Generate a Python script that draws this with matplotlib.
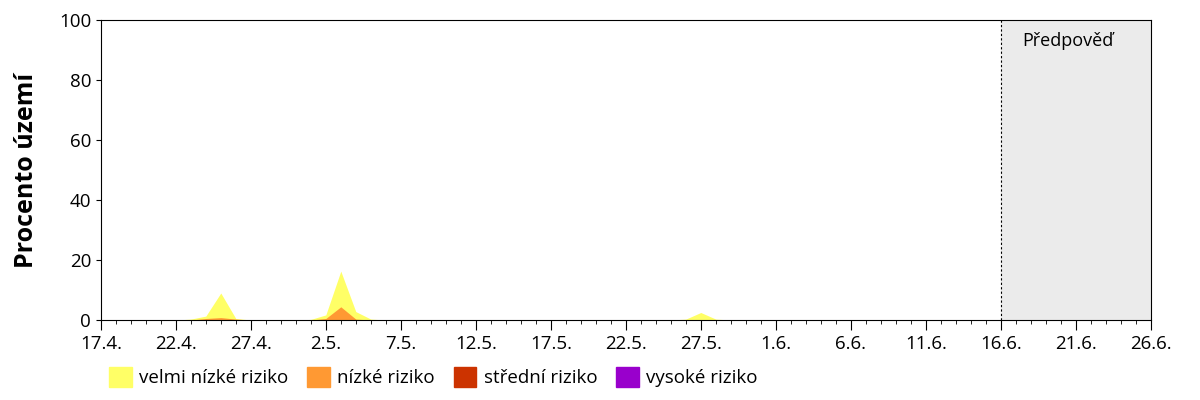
import numpy as np
import pandas as pd
import matplotlib.pyplot as plt
from matplotlib.patches import Patch

dates = pd.date_range("2024-04-17", "2024-06-26", freq="D")
forecast_start = pd.Timestamp("2024-06-16")

# percent of territory per risk class
very_low = {"2024-04-23": 0.3, "2024-04-24": 1.3, "2024-04-25": 9.0, "2024-04-26": 0.5,
            "2024-05-01": 0.2, "2024-05-02": 1.7, "2024-05-03": 16.3, "2024-05-04": 2.8,
            "2024-05-05": 0.3, "2024-05-26": 0.3, "2024-05-27": 2.5, "2024-05-28": 0.3}
low = {"2024-04-24": 0.5, "2024-04-25": 0.8, "2024-04-26": 0.3,
       "2024-05-02": 0.5, "2024-05-03": 4.4, "2024-05-04": 0.3}
medium = {}
high = {}

def series(d):
    s = pd.Series(0.0, index=dates)
    for k, v in d.items():
        s[pd.Timestamp(k)] = v
    return s

classes = [("velmi nízké riziko", very_low, "#ffff66"),
           ("nízké riziko", low, "#ff9933"),
           ("střední riziko", medium, "#cc3300"),
           ("vysoké riziko", high, "#9900cc")]

plt.rcParams["font.family"] = ["Open Sans", "DejaVu Sans"]
fig = plt.figure(figsize=(12, 4), dpi=100)
ax = fig.add_axes([0.084, 0.2, 0.875, 0.75])

for name, d, col in classes:
    s = series(d)
    ax.fill_between(s.index, 0, s.values, color=col, lw=0)

ax.axvspan(forecast_start, dates[-1], color="#ebebeb", zorder=0)
ax.axvline(forecast_start, color="black", ls=(0, (2, 2)), lw=0.8)
ax.text(forecast_start + pd.Timedelta(days=4.5), 93, "Předpověď", ha="center", va="center", fontsize=13)

ax.set_xlim(dates[0], dates[-1])
ax.set_ylim(0, 100)
ax.set_yticks(range(0, 101, 20))
ticks = pd.date_range(dates[0], dates[-1], freq="5D")
ax.set_xticks(ticks)
ax.set_xticklabels([f"{t.day}.{t.month}." for t in ticks])
ax.set_xticks(dates, minor=True)
ax.tick_params(axis="x", which="major", length=7, labelsize=13.5)
ax.tick_params(axis="x", which="minor", length=3)
ax.tick_params(axis="y", labelsize=13.5)
ax.set_ylabel("Procento území", fontsize=18, fontweight="bold", labelpad=14)

handles = [Patch(color=c, label=n) for n, _, c in classes]
fig.legend(handles=handles, loc="lower left", bbox_to_anchor=(0.077, -0.01), ncol=4,
           frameon=False, fontsize=13.5, handlelength=1.2, handleheight=1.3,
           handletextpad=0.4, columnspacing=1.0)

fig.savefig("out.png")
